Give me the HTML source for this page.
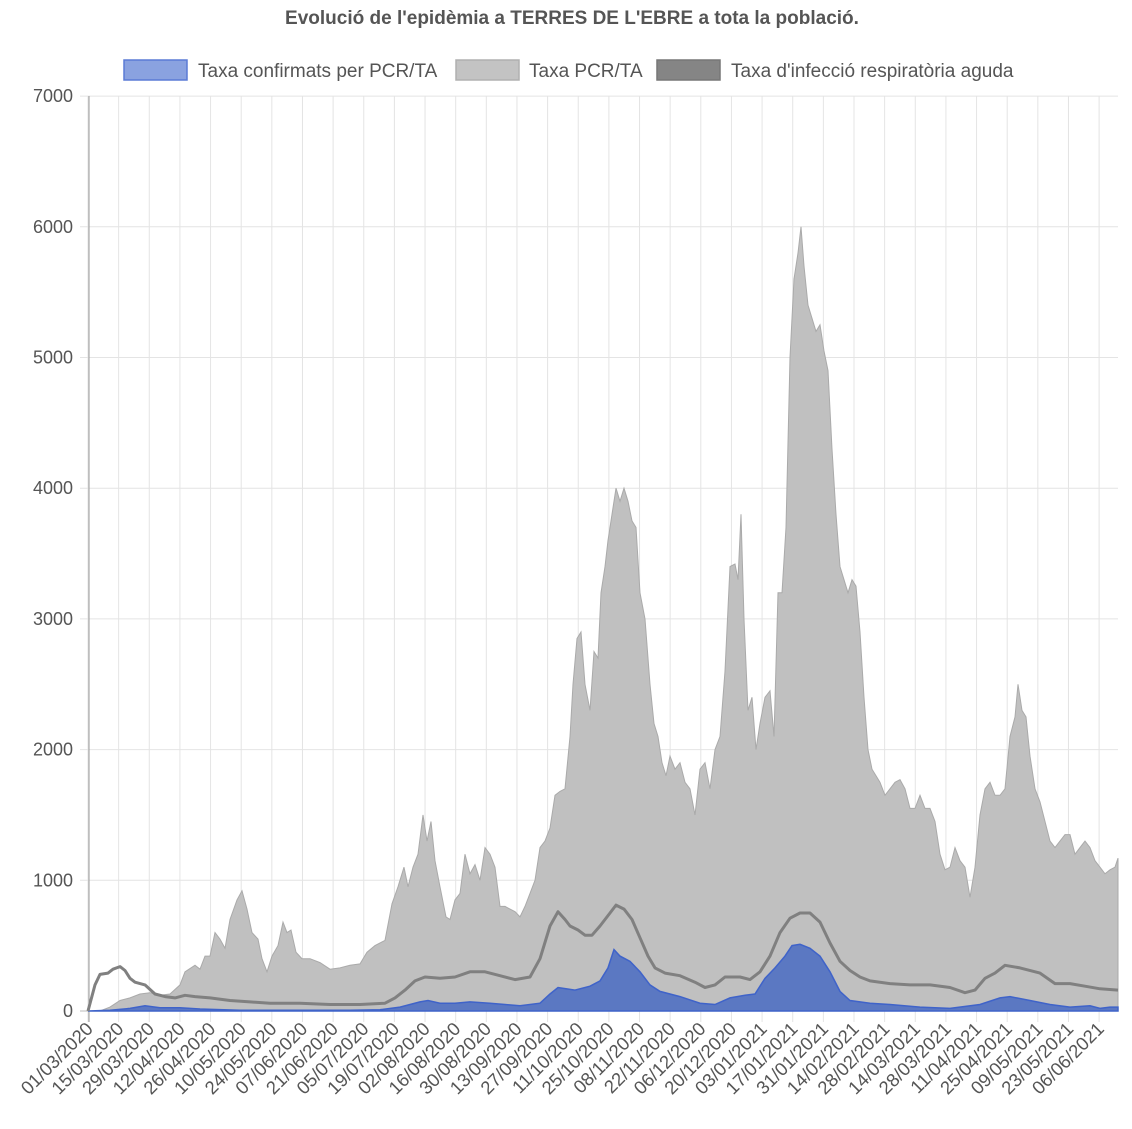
<!DOCTYPE html>
<html><head><meta charset="utf-8"><style>
body{margin:0;background:#fff;width:1132px;height:1124px;overflow:hidden;font-family:"Liberation Sans",sans-serif}
</style></head><body>
<svg id="s" width="1132" height="1124" xmlns="http://www.w3.org/2000/svg" font-family="Liberation Sans, sans-serif">
<text x="572" y="24" text-anchor="middle" font-size="19" font-weight="bold" fill="#555">Evolució de l'epidèmia a TERRES DE L'EBRE a tota la població.</text>
<rect x="124" y="60" width="63" height="20" fill="#8aa2e0" stroke="#5b7bd5" stroke-width="1.5"/>
<text x="198" y="77" font-size="19" fill="#555">Taxa confirmats per PCR/TA</text>
<rect x="456" y="60" width="63" height="20" fill="#c3c3c3" stroke="#b0b0b0" stroke-width="1.5"/>
<text x="529" y="77" font-size="19" fill="#555">Taxa PCR/TA</text>
<rect x="657" y="60" width="63" height="20" fill="#858585" stroke="#777" stroke-width="1.5"/>
<text x="731" y="77" font-size="19" fill="#555">Taxa d'infecció respiratòria aguda</text>
<g id="grid"></g>
<g id="data"></g>
</svg>
<script>
const svg=document.getElementById('s'),g=document.getElementById('grid'),d=document.getElementById('data');
const NS='http://www.w3.org/2000/svg';
function el(t,a,p,txt){const e=document.createElementNS(NS,t);for(const k in a)e.setAttribute(k,a[k]);if(txt)e.textContent=txt;(p||g).appendChild(e);return e;}
const Y=v=>1011-v*0.1307;
for(let i=0;i<=7;i++){const y=Y(i*1000);el('line',{x1:80,x2:1118,y1:y,y2:y,stroke:'#e4e4e4'});el('text',{x:73,y:y+6,'text-anchor':'end','font-size':18,fill:'#555'},g,String(i*1000));}
const labels=["01/03/2020","15/03/2020","29/03/2020","12/04/2020","26/04/2020","10/05/2020","24/05/2020","07/06/2020","21/06/2020","05/07/2020","19/07/2020","02/08/2020","16/08/2020","30/08/2020","13/09/2020","27/09/2020","11/10/2020","25/10/2020","08/11/2020","22/11/2020","06/12/2020","20/12/2020","03/01/2021","17/01/2021","31/01/2021","14/02/2021","28/02/2021","14/03/2021","28/03/2021","11/04/2021","25/04/2021","09/05/2021","23/05/2021","06/06/2021"];
labels.forEach((l,i)=>{const x=88+i*30.64;el('line',{x1:x,x2:x,y1:96,y2:1022,stroke:'#e4e4e4'});el('text',{x:x+6,y:1030,'text-anchor':'end','font-size':18.5,fill:'#555',transform:`rotate(-45 ${x+6} 1030)`},g,l);});
el('line',{x1:89,x2:89,y1:96,y2:1022,stroke:'#999'});
el('line',{x1:80,x2:1118,y1:1011,y2:1011,stroke:'#bbb'});
function pts(s){const a=s.trim().split(/\s*,\s*/).map(p=>p.split(':').map(Number));return a.map(([x,v])=>[x,Y(v)]);}
const gray=pts("88:0,100:0,110:30,120:80,130:100,140:130,150:140,160:120,170:130,180:200,185:300,195:350,200:320,205:420,210:420,215:600,220:550,225:480,230:700,237:850,242:920,247:780,252:600,258:550,262:400,267:300,272:420,278:500,283:680,287:600,291:620,296:450,302:400,310:400,320:370,330:320,340:330,350:350,360:360,367:450,375:500,385:540,392:820,398:950,404:1100,408:950,413:1100,418:1200,423:1500,427:1300,431:1450,435:1150,440:950,446:720,450:700,455:850,460:900,465:1200,470:1050,475:1120,480:1000,485:1250,490:1200,495:1100,500:800,505:800,510:780,515:760,520:720,525:800,530:900,535:1000,540:1250,545:1300,550:1400,555:1650,560:1680,565:1700,570:2100,573:2500,577:2850,581:2900,585:2500,590:2300,594:2750,598:2700,601:3200,605:3400,608:3600,612:3800,616:4000,620:3900,624:4000,628:3900,632:3750,636:3700,640:3200,645:3000,650:2500,654:2200,658:2100,662:1900,666:1800,670:1950,675:1850,680:1900,685:1750,690:1700,695:1500,700:1850,705:1900,710:1700,715:2000,720:2100,725:2600,730:3400,735:3420,738:3300,741:3800,744:3000,748:2300,752:2400,756:2000,760:2200,765:2400,770:2450,774:2100,778:3200,782:3200,786:3700,790:5000,794:5600,798:5800,801:6000,804:5700,808:5400,812:5300,816:5200,820:5250,824:5050,828:4900,832:4300,836:3800,840:3400,844:3300,848:3200,852:3300,856:3250,860:2900,864:2400,868:2000,872:1850,876:1800,880:1750,885:1650,890:1700,895:1750,900:1770,905:1700,910:1550,915:1550,920:1650,925:1550,930:1550,935:1450,940:1200,945:1080,950:1100,955:1250,960:1150,965:1100,970:870,975:1100,980:1500,985:1700,990:1750,995:1650,1000:1650,1005:1700,1010:2100,1015:2250,1018:2500,1022:2300,1026:2250,1030:1950,1035:1700,1040:1600,1045:1450,1050:1300,1055:1250,1060:1300,1065:1350,1070:1350,1075:1200,1080:1250,1085:1300,1090:1250,1095:1150,1100:1100,1105:1050,1110:1080,1115:1100,1118:1170");
const line=pts("88:0,95:200,100:280,108:290,113:320,120:340,125:310,130:250,135:220,145:200,155:130,165:110,175:100,185:120,195:110,210:100,230:80,250:70,270:60,300:60,330:50,360:50,385:60,395:100,405:160,415:230,425:260,440:250,455:260,470:300,485:300,500:270,515:240,530:260,540:400,550:650,558:760,565:700,570:650,578:620,585:580,592:580,600:650,610:750,616:810,624:780,632:700,640:560,648:420,655:330,665:290,680:270,695:220,705:180,715:200,725:260,740:260,750:240,760:300,770:420,780:600,790:710,800:750,810:750,820:680,830:520,840:380,850:310,860:260,870:230,890:210,910:200,930:200,950:180,965:140,975:160,985:250,995:290,1005:350,1020:330,1040:290,1055:210,1070:210,1085:190,1100:170,1118:160");
const blue=pts("88:0,110:5,130:20,145:40,160:25,180:25,200:15,240:5,350:5,380:10,400:30,420:70,428:80,440:60,455:60,470:70,490:60,505:50,520:40,540:60,550:130,558:180,566:170,575:160,590:190,600:230,608:330,614:470,620:420,630:380,640:300,650:200,660:150,680:110,700:60,715:50,730:100,745:120,755:130,765:250,775:330,785:420,792:500,800:510,810:480,820:420,830:300,840:150,850:80,870:60,890:50,920:30,950:20,980:50,1000:100,1010:110,1030:80,1050:50,1070:30,1090:40,1100:20,1110:30,1118:30");
const P=a=>a.map((p,i)=>(i?'L':'M')+p[0].toFixed(1)+' '+p[1].toFixed(1)).join(' ');
el('path',{d:P(gray)+' L1118 1011 L88 1011 Z',fill:'#c0c0c0',stroke:'#aaa','stroke-width':1},d);
el('path',{d:P(blue)+' L1118 1011 L88 1011 Z',fill:'#5b78c2',stroke:'#3f63c9','stroke-width':1.5},d);
el('path',{d:P(line),fill:'none',stroke:'#808080','stroke-width':3,'stroke-linejoin':'round'},d);
</script>
</body></html>
